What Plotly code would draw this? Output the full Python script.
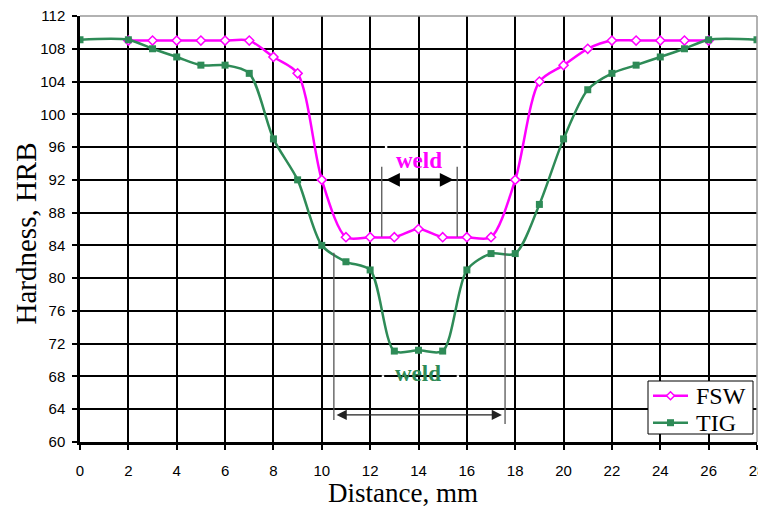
import plotly.graph_objects as go

fsw_x = [2, 3, 4, 5, 6, 7, 8, 9, 10, 11, 12, 13, 14, 15, 16, 17, 18, 19, 20, 21, 22, 23, 24, 25, 26]
fsw_y = [109, 109, 109, 109, 109, 109, 107, 105, 92, 85, 85, 85, 86, 85, 85, 85, 92, 104, 106, 108, 109, 109, 109, 109, 109]
tig_x = [0, 2, 3, 4, 5, 6, 7, 8, 9, 10, 11, 12, 13, 14, 15, 16, 17, 18, 19, 20, 21, 22, 23, 24, 25, 26, 28]
tig_y = [109.1, 109.1, 108, 107, 106, 106, 105, 97, 92, 84, 82, 81, 71.1, 71.2, 71.1, 81, 83, 83, 89, 97, 103, 105, 106, 107, 108, 109.1, 109.1]
x_ticks = list(range(0, 29, 2))
y_ticks = list(range(60, 113, 4))
series_names = ["FSW", "TIG"]

MAG = "#FF00FF"
GRN = "#2E8B57"
SERIF = "Liberation Serif, Times New Roman, serif"
SANS = "Liberation Sans, Arial, sans-serif"

# page places the figure div 8px in from the window corner
OFF = 8
W, H = 766 - OFF, 511 - OFF
# plot area in window pixels
L, R, T, B = 80, 757, 16, 442
def px(xp):
    return (xp - L) / (R - L)
def py(yp):
    return (B - yp) / (B - T)

fig = go.Figure()
fig.add_trace(go.Scatter(
    x=fsw_x, y=fsw_y, name=series_names[0], mode="lines+markers",
    line=dict(color=MAG, width=2.5, shape="spline", smoothing=0.8),
    marker=dict(symbol="diamond", size=7, color="white", line=dict(color=MAG, width=1.5)),
))
fig.add_trace(go.Scatter(
    x=tig_x, y=tig_y, name=series_names[1], mode="lines+markers",
    line=dict(color=GRN, width=2.5, shape="spline", smoothing=0.8),
    marker=dict(symbol="square", size=7, color=GRN),
))

shapes = []
# small white gaps at text-box corners
for (xa, yy) in [(12.66, 96), (15.8, 96), (12.53, 68), (15.63, 68)]:
    shapes.append(dict(type="line", xref="x", yref="y", x0=xa - 0.05, x1=xa + 0.05, y0=yy, y1=yy,
                       line=dict(color="white", width=2.5), layer="above"))
# vertical guide lines
for (x0, ya, yb) in [(12.48, 93.6, 85.05), (15.6, 93.6, 85.05),
                     (10.5, 83.1, 62.7), (17.58, 83.7, 62.2)]:
    shapes.append(dict(type="line", xref="x", yref="y", x0=x0, x1=x0, y0=ya, y1=yb,
                       line=dict(color="#555555", width=1.3), layer="above"))
# top/right gray border
shapes.append(dict(type="line", xref="paper", yref="paper", x0=0, x1=1, y0=1, y1=1,
                   line=dict(color="#999999", width=1.5)))
shapes.append(dict(type="line", xref="paper", yref="paper", x0=1, x1=1, y0=0, y1=1,
                   line=dict(color="#999999", width=1.5)))

# legend (drawn manually to match the compact box)
shapes.append(dict(type="rect", xref="paper", yref="paper",
                   x0=px(648), x1=px(753), y0=py(434), y1=py(381),
                   line=dict(color="black", width=1), fillcolor="white", layer="above"))
leg_rows = [(395.7, MAG), (422.7, GRN)]
for (yy, col) in leg_rows:
    shapes.append(dict(type="line", xref="paper", yref="paper", x0=px(653), x1=px(688),
                       y0=py(yy), y1=py(yy), line=dict(color=col, width=2.5), layer="above"))
# legend markers
shapes.append(dict(type="path", xref="paper", yref="paper", layer="above",
                   path="M {a},{b} L {c},{d} L {a},{e} L {f},{d} Z".format(
                       a=px(670.5), b=py(391.7), c=px(674.5), d=py(395.7), e=py(399.7), f=px(666.5)),
                   fillcolor="white", line=dict(color=MAG, width=1.5)))
shapes.append(dict(type="rect", xref="paper", yref="paper", layer="above",
                   x0=px(667), x1=px(674), y0=py(426.2), y1=py(419.2),
                   fillcolor=GRN, line=dict(color=GRN, width=0)))

annotations = [
    dict(x=15.45, y=92, ax=12.6, ay=92, xref="x", yref="y", axref="x", ayref="y",
         text="", showarrow=True, arrowhead=2, arrowside="end+start", arrowsize=1.1,
         arrowwidth=2.5, arrowcolor="black"),
    dict(x=17.45, y=63.3, ax=10.55, ay=63.3, xref="x", yref="y", axref="x", ayref="y",
         text="", showarrow=True, arrowhead=2, arrowside="end+start", arrowsize=1.7,
         arrowwidth=1.2, arrowcolor="#222222"),
    dict(x=14.0, y=94.4, xref="x", yref="y", text="<b>weld</b>", showarrow=False,
         font=dict(family=SERIF, size=23, color=MAG)),
    dict(x=13.96, y=68.4, xref="x", yref="y", text="<b>weld</b>", showarrow=False,
         font=dict(family=SERIF, size=23, color=GRN)),
    # axis titles
    dict(x=px(25), y=py(233.5), xref="paper", yref="paper", text="Hardness, HRB",
         textangle=-90, showarrow=False, xanchor="center", yanchor="middle",
         font=dict(family=SERIF, size=29, color="black")),
    dict(x=px(403), y=py(493), xref="paper", yref="paper", text="Distance, mm",
         showarrow=False, xanchor="center", yanchor="middle",
         font=dict(family=SERIF, size=27, color="black")),
]
for (yy, name) in zip([395.7, 422.7], series_names):
    annotations.append(dict(x=px(694), y=py(yy), xref="paper", yref="paper", text=name,
                            showarrow=False, xanchor="left", yanchor="middle",
                            font=dict(family=SERIF, size=24, color="black")))

fig.update_layout(
    width=W, height=H,
    margin=dict(l=L - OFF, r=(W + OFF) - R, t=T - OFF, b=(H + OFF) - B, autoexpand=False),
    plot_bgcolor="white", paper_bgcolor="white",
    shapes=shapes, annotations=annotations,
    showlegend=False,
    xaxis=dict(range=[0, 28], tickvals=x_ticks, ticktext=[str(v) for v in x_ticks],
               showgrid=True, gridcolor="black", gridwidth=1.5,
               showline=True, linecolor="black", linewidth=2.5,
               ticks="outside", ticklen=5, tickwidth=2, tickcolor="black",
               tickfont=dict(family=SANS, size=15, color="black"),
               ticklabelstandoff=8, ticklabeloverflow="allow",
               automargin=False, zeroline=False),
    yaxis=dict(range=[60, 112], tickvals=y_ticks, ticktext=[str(v) for v in y_ticks],
               showgrid=True, gridcolor="black", gridwidth=1.5,
               showline=True, linecolor="black", linewidth=2.5,
               ticks="outside", ticklen=5, tickwidth=2, tickcolor="black",
               tickfont=dict(family=SANS, size=15, color="black"),
               ticklabelstandoff=4, ticklabeloverflow="allow",
               automargin=False, zeroline=False),
)

fig.write_html("out.html")
